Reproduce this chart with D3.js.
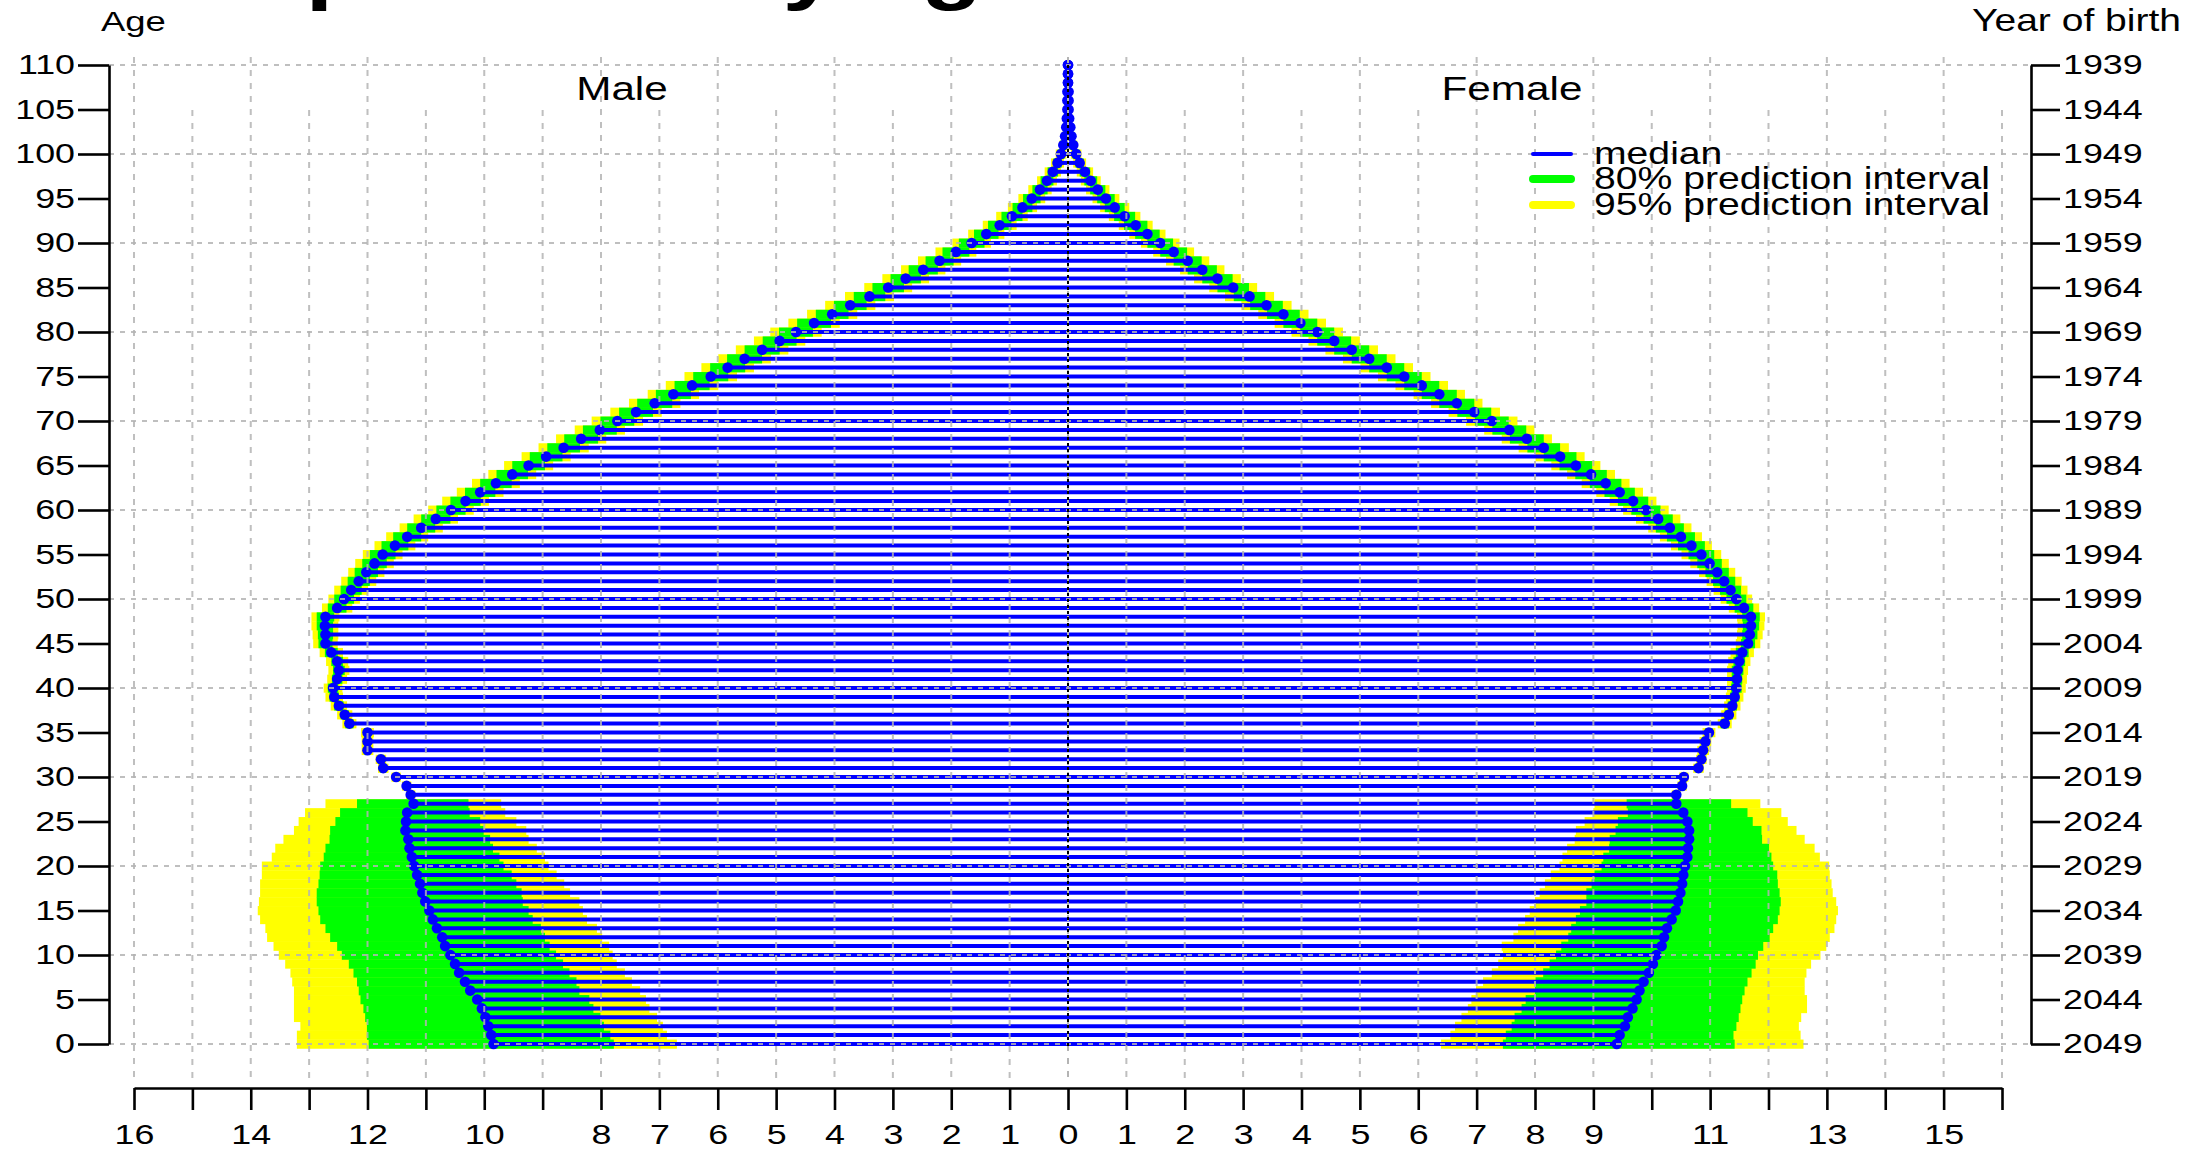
<!DOCTYPE html>
<html><head><meta charset="utf-8">
<script src="https://cdn.jsdelivr.net/npm/d3@7"></script>
<style>html,body{margin:0;padding:0;background:#fff;overflow:hidden}</style>
</head><body>
<svg id="c" width="2212" height="1151"></svg>
<script>
// ---------------- DATA ----------------
const ages = d3.range(0, 111);
const ageTicks = [0,5,10,15,20,25,30,35,40,45,50,55,60,65,70,75,80,85,90,95,100,105,110];
const birthYearLabels = ["2049","2044","2039","2034","2029","2024","2019","2014","2009","2004","1999","1994","1989","1984","1979","1974","1969","1964","1959","1954","1949","1944","1939"];
const xTickValues = [-16,-15,-14,-13,-12,-11,-10,-9,-8,-7,-6,-5,-4,-3,-2,-1,0,1,2,3,4,5,6,7,8,9,10,11,12,13,14,15,16];
const xTickLabels = ["16","","14","","12","","10","","8","7","6","5","4","3","2","1","0","1","2","3","4","5","6","7","8","9","","11","","13","","15",""];
const legendLabels = ["median","80% prediction interval","95% prediction interval"];

// median, ages 0..110
const maleMedian = [9.84,9.88,9.93,9.98,10.04,10.12,10.24,10.33,10.43,10.50,
 10.58,10.67,10.72,10.81,10.88,10.94,11.01,11.06,11.10,11.15,
 11.20,11.24,11.28,11.30,11.35,11.34,11.32,11.21,11.26,11.33,
 11.51,11.73,11.77,12.00,12.00,12.00,12.31,12.39,12.49,12.57,
 12.59,12.52,12.49,12.52,12.62,12.72,12.72,12.73,12.72,12.52,
 12.40,12.28,12.15,12.02,11.88,11.74,11.53,11.32,11.08,10.83,
 10.57,10.32,10.07,9.80,9.52,9.24,8.94,8.64,8.34,8.02,
 7.72,7.40,7.08,6.76,6.44,6.12,5.83,5.54,5.24,4.94,
 4.66,4.35,4.04,3.73,3.40,3.08,2.78,2.48,2.20,1.92,
 1.65,1.40,1.17,0.96,0.78,0.62,0.48,0.36,0.26,0.18,
 0.12,0.08,0.05,0.03,0.02,0.01,0.01,0.01,0.0,0.0,0.0];
const femaleMedian = [9.40,9.45,9.54,9.59,9.67,9.74,9.79,9.86,9.95,10.02,
 10.08,10.17,10.21,10.26,10.34,10.41,10.45,10.49,10.52,10.54,
 10.57,10.61,10.62,10.64,10.64,10.61,10.54,10.42,10.42,10.52,
 10.55,10.80,10.85,10.88,10.92,10.98,11.25,11.32,11.38,11.42,
 11.45,11.46,11.47,11.50,11.55,11.65,11.68,11.70,11.70,11.58,
 11.45,11.35,11.24,11.12,10.99,10.85,10.68,10.50,10.31,10.11,
 9.90,9.68,9.45,9.21,8.96,8.70,8.43,8.15,7.86,7.56,
 7.26,6.96,6.66,6.36,6.06,5.76,5.46,5.16,4.86,4.56,
 4.27,3.98,3.69,3.40,3.11,2.83,2.56,2.30,2.05,1.81,
 1.58,1.36,1.16,0.97,0.80,0.65,0.51,0.39,0.29,0.20,
 0.14,0.09,0.06,0.04,0.02,0.01,0.01,0.01,0.0,0.0,0.0];

// prediction intervals, ages 0..27
const maleLo95 = [6.70,6.87,6.94,7.04,7.17,7.23,7.33,7.47,7.59,7.73,7.80,7.86,7.98,8.07,8.24,8.31,8.37,8.53,8.63,8.76,8.90,8.96,9.10,9.24,9.28,9.45,9.64,9.71];
const maleLo80 = [7.78,7.84,7.95,8.01,8.13,8.20,8.37,8.42,8.54,8.65,8.77,8.88,8.96,9.03,9.17,9.24,9.34,9.36,9.45,9.53,9.67,9.74,9.85,9.90,10.01,10.07,10.25,10.27];
const maleHi80 = [11.98,12.01,12.01,12.04,12.07,12.12,12.15,12.18,12.24,12.32,12.44,12.52,12.64,12.72,12.81,12.84,12.87,12.87,12.84,12.82,12.81,12.75,12.72,12.65,12.64,12.55,12.47,12.18];
const maleHi95 = [13.21,13.21,13.15,13.26,13.26,13.26,13.26,13.29,13.32,13.41,13.52,13.61,13.72,13.75,13.84,13.88,13.86,13.84,13.84,13.81,13.81,13.64,13.58,13.44,13.26,13.18,13.07,12.72];
const femaleLo95 = [6.39,6.55,6.63,6.74,6.85,6.91,6.99,7.11,7.26,7.37,7.45,7.43,7.63,7.71,7.83,7.91,8.00,8.08,8.17,8.27,8.42,8.47,8.55,8.68,8.70,8.85,9.00,9.02];
const femaleLo80 = [7.45,7.50,7.60,7.65,7.77,7.84,8.00,8.01,8.14,8.25,8.36,8.45,8.57,8.62,8.70,8.77,8.88,8.88,8.97,9.02,9.14,9.17,9.27,9.28,9.38,9.42,9.59,9.57];
const femaleHi80 = [11.42,11.40,11.45,11.49,11.52,11.55,11.59,11.64,11.71,11.78,11.82,11.91,12.02,12.08,12.16,12.19,12.21,12.19,12.16,12.15,12.08,12.05,12.01,11.89,11.88,11.73,11.64,11.36];
const femaleHi95 = [12.60,12.55,12.52,12.56,12.66,12.66,12.62,12.62,12.65,12.73,12.89,12.99,13.05,13.13,13.16,13.19,13.16,13.10,13.08,13.05,13.04,12.88,12.79,12.62,12.48,12.33,12.22,11.86];
// half-widths of the intervals around the median, ages 28..110
const halfWidth80 = [0.04,0.04,0.04,0.05,0.05,0.05,0.06,0.06,
 0.07,0.07,0.08,0.08,0.09,0.09,0.10,0.10,0.11,0.12,
 0.13,0.14,0.15,0.16,0.17,0.18,0.19,0.20,0.21,0.22,
 0.23,0.24,0.24,0.25,0.25,0.26,0.26,0.27,0.27,0.28,
 0.28,0.28,0.29,0.29,0.29,0.29,0.30,0.30,0.30,0.30,
 0.30,0.30,0.30,0.29,0.29,0.29,0.28,0.28,0.27,0.27,
 0.26,0.25,0.24,0.23,0.22,0.21,0.20,0.18,0.17,0.15,
 0.13,0.11,0.09,0.07,0.06,0.05,0.04,0.03,0.02,0.02,
 0.01,0.01,0.01,0.0,0.0];
const halfWidth95 = [0.08,0.08,0.08,0.09,0.09,0.10,0.10,0.11,
 0.12,0.13,0.14,0.15,0.16,0.17,0.18,0.19,0.20,0.21,
 0.22,0.23,0.24,0.26,0.27,0.29,0.30,0.31,0.33,0.34,
 0.35,0.36,0.37,0.38,0.39,0.40,0.40,0.41,0.41,0.42,
 0.42,0.43,0.43,0.43,0.44,0.44,0.44,0.44,0.45,0.45,
 0.45,0.45,0.45,0.44,0.44,0.44,0.43,0.43,0.42,0.41,
 0.40,0.38,0.37,0.35,0.33,0.31,0.29,0.27,0.25,0.23,
 0.20,0.17,0.14,0.11,0.09,0.07,0.05,0.04,0.03,0.02,
 0.02,0.01,0.01,0.0,0.0];

// ---------------- CHART ----------------
const SX = 1.28; // horizontal stretch of lettering
const FONT = "'Liberation Sans', Arial, Helvetica, sans-serif";
const BLUE = "#0000ff", GREEN = "#00ff00", YELLOW = "#ffff00", GRID = "#b4b4b4";
const svg = d3.select("#c").style("font-family", FONT);
const x = d3.scaleLinear().domain([-16, 16]).range([134, 2002]);
const y = d3.scaleLinear().domain([0, 110]).range([1044, 65]);

function stretch(sel) {
  sel.each(function () {
    const t = d3.select(this);
    const xv = +t.attr("x") || 0;
    t.attr("x", xv / SX).attr("transform", `scale(${SX},1)`);
  });
}
function interval(a, sex) {
  const med = sex === "m" ? maleMedian[a] : femaleMedian[a];
  if (a <= 27) {
    return sex === "m"
      ? [maleLo95[a], maleLo80[a], maleHi80[a], maleHi95[a]]
      : [femaleLo95[a], femaleLo80[a], femaleHi80[a], femaleHi95[a]];
  }
  const w8 = halfWidth80[a - 28], w9 = halfWidth95[a - 28];
  return [Math.max(0, med - w9), Math.max(0, med - w8), med + w8, med + w9];
}

const rows = [];
ages.forEach(a => {
  rows.push({ age: a, sex: "m", sign: -1, med: maleMedian[a], iv: interval(a, "m") });
  rows.push({ age: a, sex: "f", sign: 1, med: femaleMedian[a], iv: interval(a, "f") });
});
const rowH = y(0) - y(1);

// title (clipped at the top edge, as in the source)
svg.append("text").attr("x", 178).attr("y", -5)
  .attr("font-size", 78).attr("font-weight", "bold").attr("fill", "#000")
  .text("Population by age").call(stretch);

// interval bands
function band(lo, hi, color) {
  svg.append("g").selectAll("rect").data(rows).join("rect")
    .attr("x", d => Math.min(x(d.sign * d.iv[lo]), x(d.sign * d.iv[hi])))
    .attr("width", d => Math.abs(x(d.sign * d.iv[hi]) - x(d.sign * d.iv[lo])))
    .attr("y", d => y(d.age + 0.5))
    .attr("height", rowH + 0.3)
    .attr("fill", color);
}
band(0, 3, YELLOW);
band(1, 2, GREEN);

// median bars
svg.append("g").selectAll("line").data(rows).join("line")
  .attr("x1", x(0)).attr("x2", d => x(d.sign * d.med))
  .attr("y1", d => y(d.age)).attr("y2", d => y(d.age))
  .attr("stroke", BLUE).attr("stroke-width", 4);
svg.append("g").selectAll("circle").data(rows).join("circle")
  .attr("cx", d => x(d.sign * d.med)).attr("cy", d => y(d.age))
  .attr("r", 5.3).attr("fill", BLUE);

// grid
const grid = svg.append("g");
grid.selectAll("line.v").data(xTickValues.filter(v => v !== 0)).join("line")
  .attr("class", "v")
  .attr("x1", d => x(d)).attr("x2", d => x(d))
  .attr("y1", d => ((d < 0 && d % 2 === 0) || (d > 0 && d % 2 !== 0)) ? 57 : 110)
  .attr("y2", 1083)
  .attr("stroke", GRID).attr("stroke-width", 2).attr("stroke-dasharray", "6,7").attr("opacity", 0.85);
grid.selectAll("line.h").data(ageTicks.filter(a => a % 10 === 0)).join("line")
  .attr("class", "h")
  .attr("x1", 109).attr("x2", 2031)
  .attr("y1", d => y(d)).attr("y2", d => y(d))
  .attr("stroke", GRID).attr("stroke-width", 2).attr("stroke-dasharray", "5,6").attr("opacity", 0.85);
grid.append("line").attr("x1", x(0)).attr("x2", x(0)).attr("y1", 57).attr("y2", 1083)
  .attr("stroke", GRID).attr("stroke-width", 2).attr("stroke-dasharray", "6,7");
grid.append("line").attr("x1", x(0)).attr("x2", x(0)).attr("y1", y(110)).attr("y2", y(-0.5))
  .attr("stroke", "#000").attr("stroke-width", 2).attr("stroke-dasharray", "3,3");

// axes
function styleAxis(g) {
  g.selectAll("path.domain").attr("stroke", "#000").attr("stroke-width", 2.6);
  g.selectAll(".tick line").attr("stroke", "#000").attr("stroke-width", 2.6);
  g.selectAll("text").attr("font-size", 28).attr("font-family", FONT).attr("fill", "#000").call(stretch);
}
svg.append("g").attr("transform", "translate(109,0)")
  .call(d3.axisLeft(y).tickValues(ageTicks).tickSize(31).tickSizeOuter(0).tickPadding(3))
  .call(styleAxis);
svg.append("g").attr("transform", "translate(2031,0)")
  .call(d3.axisRight(y).tickValues(ageTicks).tickSize(29).tickSizeOuter(0).tickPadding(3)
    .tickFormat((d, i) => birthYearLabels[i]))
  .call(styleAxis);
svg.append("g").attr("transform", "translate(0,1088)")
  .call(d3.axisBottom(x).tickValues(xTickValues).tickSize(22).tickSizeOuter(0).tickPadding(14)
    .tickFormat((d, i) => xTickLabels[i]))
  .call(styleAxis);

// axis titles and side labels
function label(txt, xp, yp, size, anchor) {
  svg.append("text").attr("x", xp).attr("y", yp).attr("font-size", size)
    .attr("text-anchor", anchor || "start").attr("fill", "#000").text(txt).call(stretch);
}
label("Age", 101, 31, 28.5);
label("Year of birth", 1972, 31, 30.5);
label("Male", 622, 100, 33, "middle");
label("Female", 1512, 100, 33, "middle");

// legend
const legColors = [BLUE, GREEN, YELLOW];
const legWidths = [4, 8, 8];
const legY = [154, 179, 205];
legendLabels.forEach((t, i) => {
  svg.append("line").attr("x1", 1533).attr("x2", 1571).attr("y1", legY[i]).attr("y2", legY[i])
    .attr("stroke", legColors[i]).attr("stroke-width", legWidths[i]).attr("stroke-linecap", "round");
  label(t, 1594, legY[i] + 10, 30.6);
});
</script>
</body></html>
